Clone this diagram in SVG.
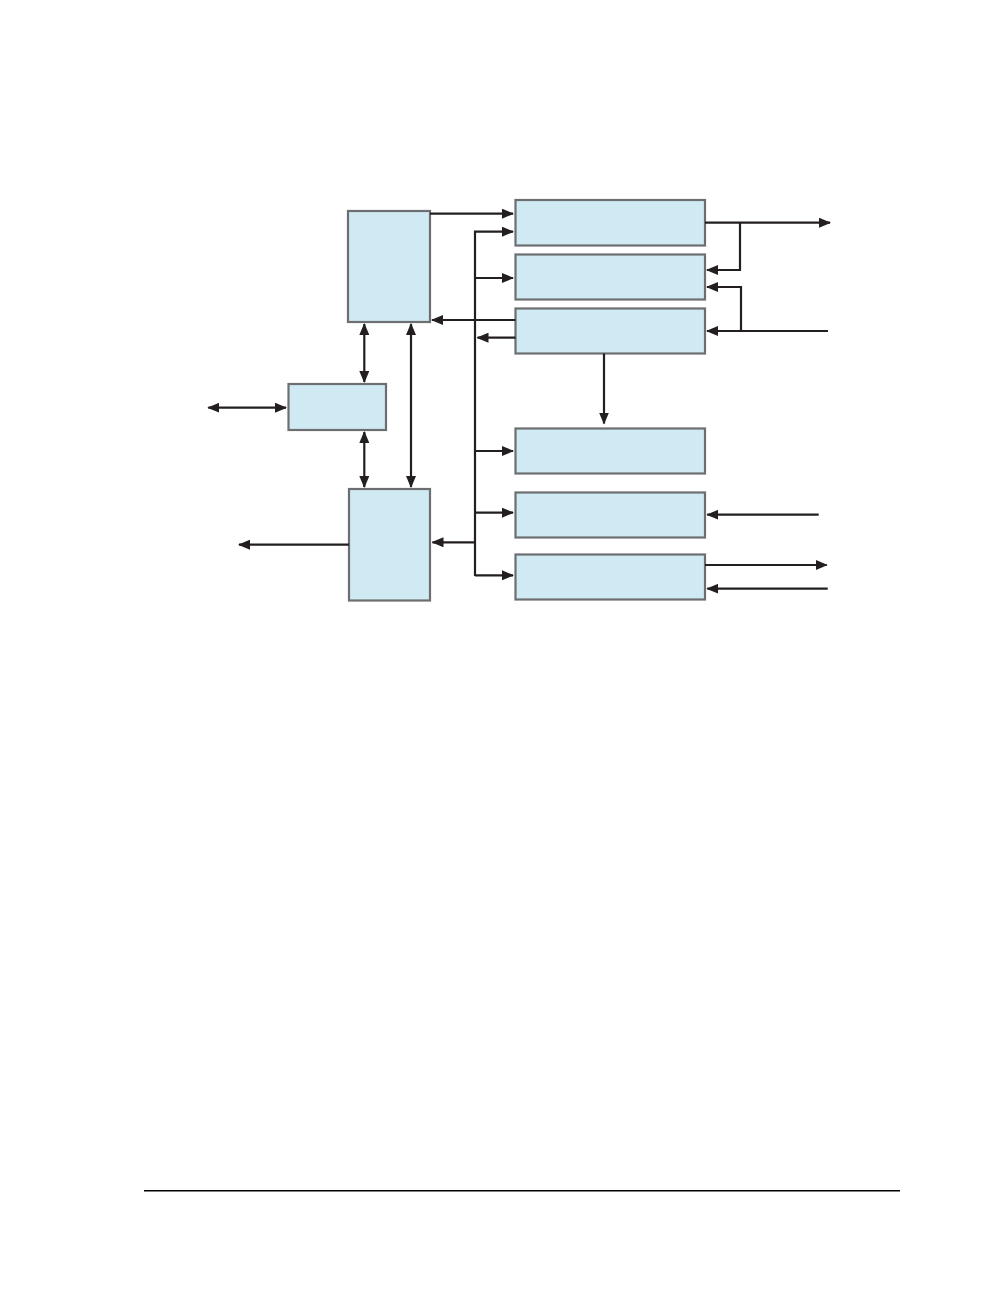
<svg xmlns="http://www.w3.org/2000/svg" width="1008" height="1296" viewBox="0 0 1008 1296">
<style>
.box{fill:#cfeaf3;stroke:#6d6e71;stroke-width:2.2}
.ln{fill:none;stroke:#231f20;stroke-width:2.2}
</style>
<defs>
<marker id="ah" viewBox="0 0 12 10" refX="11" refY="5" markerWidth="12" markerHeight="10" markerUnits="userSpaceOnUse" orient="auto-start-reverse">
<path d="M0,0 L12,5 L0,10 z" fill="#231f20"/>
</marker>
</defs>
<rect width="1008" height="1296" fill="#fff"/>
<g id="boxA"><rect class="box" x="348" y="211" width="82" height="111"/></g>
<g id="boxB"><rect class="box" x="288.5" y="384" width="97.5" height="46"/></g>
<g id="boxC"><rect class="box" x="349" y="489" width="81" height="111.5"/></g>
<g id="r1"><rect class="box" x="515.5" y="200" width="189.5" height="45.5"/></g>
<g id="r2"><rect class="box" x="515.5" y="254.5" width="189.5" height="45"/></g>
<g id="r3"><rect class="box" x="515.5" y="308.5" width="189.5" height="45"/></g>
<g id="r4"><rect class="box" x="515.5" y="428.5" width="189.5" height="45"/></g>
<g id="r5"><rect class="box" x="515.5" y="492.5" width="189.5" height="45"/></g>
<g id="r6"><rect class="box" x="515.5" y="554.5" width="189.5" height="45"/></g>
<g id="connectors">
<path class="ln" d="M430,213.7 H513" marker-end="url(#ah)"/>
<path class="ln" d="M475,576 V231.7 H513" marker-end="url(#ah)"/>
<path class="ln" d="M475,278 H513" marker-end="url(#ah)"/>
<path class="ln" d="M475,451 H513" marker-end="url(#ah)"/>
<path class="ln" d="M475,512.7 H513" marker-end="url(#ah)"/>
<path class="ln" d="M475,575.3 H513" marker-end="url(#ah)"/>
<path class="ln" d="M475,542.3 H432.5" marker-end="url(#ah)"/>
<path class="ln" d="M515.5,320 H432" marker-end="url(#ah)"/>
<path class="ln" d="M515.5,337.7 H477.5" marker-end="url(#ah)"/>
<path class="ln" d="M364.3,324 V382" marker-start="url(#ah)" marker-end="url(#ah)"/>
<path class="ln" d="M364.3,432 V487" marker-start="url(#ah)" marker-end="url(#ah)"/>
<path class="ln" d="M411,324 V487" marker-start="url(#ah)" marker-end="url(#ah)"/>
<path class="ln" d="M208.3,407.7 H286" marker-start="url(#ah)" marker-end="url(#ah)"/>
<path class="ln" d="M349,544.7 H239" marker-end="url(#ah)"/>
<path class="ln" d="M604,353.5 V423.5" marker-end="url(#ah)"/>
<path class="ln" d="M705,222.7 H830" marker-end="url(#ah)"/>
<path class="ln" d="M740,222.7 V270 H707" marker-end="url(#ah)"/>
<path class="ln" d="M828,331 H707" marker-end="url(#ah)"/>
<path class="ln" d="M741,331 V287 H707" marker-end="url(#ah)"/>
<path class="ln" d="M818.7,514.7 H707.3" marker-end="url(#ah)"/>
<path class="ln" d="M705,565 H826.7" marker-end="url(#ah)"/>
<path class="ln" d="M827.7,588.7 H707.3" marker-end="url(#ah)"/>
</g>
<line x1="144" y1="1190.7" x2="900" y2="1190.7" stroke="#000" stroke-width="1.5"/>
</svg>
